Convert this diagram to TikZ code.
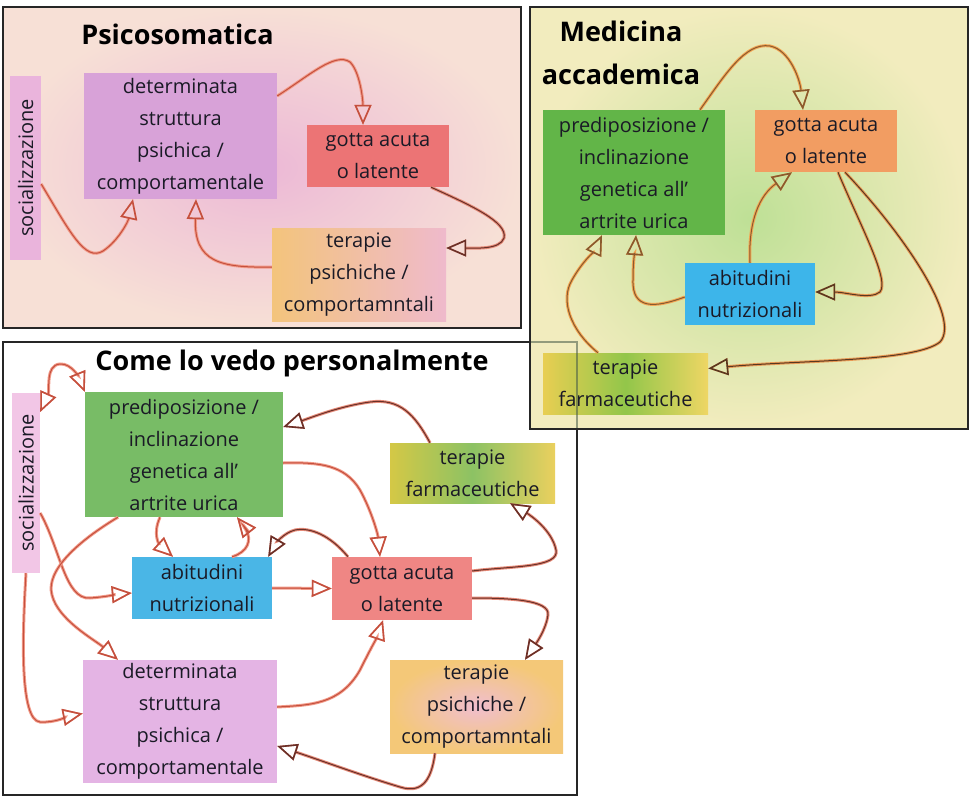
\documentclass[tikz,border=0pt]{standalone}
\usepackage{fontspec}
\setmainfont{Open Sans}
\usetikzlibrary{arrows.meta}
\definecolor{txt}{HTML}{1A1A26}
\definecolor{arRcore}{HTML}{C4503E}
\definecolor{arRhalo}{HTML}{F29A88}
\definecolor{arBcore}{HTML}{6A3028}
\definecolor{arBhalo}{HTML}{E58A78}
\definecolor{arOcore}{HTML}{8A5A2E}
\definecolor{arOhalo}{HTML}{F3A552}
\definecolor{arOBcore}{HTML}{5A3820}
\definecolor{arOBhalo}{HTML}{E89A55}
\definecolor{socA}{HTML}{EAB4DC}
\definecolor{detA}{HTML}{D8A2D8}
\definecolor{gotA}{HTML}{EC7475}
\definecolor{predB}{HTML}{62B548}
\definecolor{gotB}{HTML}{F29D62}
\definecolor{abiB}{HTML}{3DB5EA}
\definecolor{socC}{HTML}{F2C6E6}
\definecolor{predC}{HTML}{78BC66}
\definecolor{abiC}{HTML}{4AB6E6}
\definecolor{gotC}{HTML}{EF8684}
\definecolor{detC}{HTML}{E4B4E4}
\begin{document}
\begin{tikzpicture}[x=1pt,y=-1pt,
  >={Triangle[open,length=20pt,width=17pt,line width=1.6pt]},
  box/.style={rectangle, inner sep=0pt, align=center, text=txt,
    font=\fontsize{20}{32}\selectfont},
  ttl/.style={inner sep=0pt, align=center, text=black,
    font=\fontsize{27}{43}\selectfont\bfseries},
  panel/.style={draw=black!85, line width=2.6pt},
  arrR/.style={draw=arRcore, line width=1pt, preaction={draw=arRhalo, line width=3pt}, ->},
  arrB/.style={draw=arBcore, line width=1pt, preaction={draw=arBhalo, line width=3pt}, ->},
  arrO/.style={draw=arOcore, line width=1pt, preaction={draw=arOhalo, line width=3pt}, ->},
  arrOB/.style={draw=arOBcore, line width=1pt, preaction={draw=arOBhalo, line width=3pt}, ->},
]
\useasboundingbox (0,0) rectangle (970,798);
\fill[white] (0,0) rectangle (970,798);

% ---------- Panel 3 (drawn first, partly covered by panel 2)
\fill[white] (3,342) rectangle (577,795);
\draw[panel] (3,342) rectangle (577,795);

% ---------- Panel 1
\shade[inner color={rgb,255:red,236;green,184;blue,214}, outer color={rgb,255:red,247;green,224;blue,214}] (3,7) rectangle (521,328);
\draw[panel] (3,7) rectangle (521,328);
\node[ttl] (t1) at (177.5,34) {Psicosomatica};
\node[box, rotate=90, minimum width=184pt, minimum height=31pt, fill=socA] (soc1) at (25.5,168) {socializzazione};
\node[box, minimum width=193pt, minimum height=126pt, fill=detA] (det1) at (180.5,136) {determinata\\struttura\\psichica /\\comportamentale};
\node[box, minimum width=142pt, minimum height=62pt, fill=gotA] (gotta1) at (378,156) {gotta acuta\\o latente};
\node[box, minimum width=174pt, minimum height=93pt, left color={rgb,255:red,243;green,196;blue,124}, right color={rgb,255:red,239;green,186;blue,204}] (ter1) at (359,274.5) {terapie\\psichiche /\\comportamntali};
\draw[arrR] ([yshift=-16pt]soc1.south) .. controls (70,232) and (85,262) .. (103,251) .. controls (118,241) and (128,222) .. ([xshift=-47.5pt]det1.south);
\draw[arrR] ([yshift=40pt]det1.east) .. controls (310,75) and (335,52) .. (350,62) .. controls (360,72) and (363,100) .. ([xshift=-15pt]gotta1.north);
\draw[arrB] ([xshift=53pt]gotta1.south) .. controls (470,205) and (508,222) .. (504,238) .. controls (500,250) and (475,248) .. ([yshift=26.5pt]ter1.east);
\draw[arrR] ([yshift=7.5pt]ter1.west) .. controls (220,268) and (194,262) .. ([xshift=15.5pt]det1.south);

% ---------- Panel 2
\shade[inner color={rgb,255:red,190;green,224;blue,150}, outer color={rgb,255:red,242;green,236;blue,190}] (530,7) rectangle (968,429);
\node[ttl] (t2) at (621,53) {Medicina\\accademica};
\node[box, minimum width=182pt, minimum height=125pt, fill=predB] (pred2) at (634,172.5) {prediposizione /\\inclinazione\\genetica all\char39\\artrite urica};
\node[box, minimum width=142pt, minimum height=62pt, fill=gotB] (gotta2) at (826,141) {gotta acuta\\o latente};
\node[box, minimum width=130pt, minimum height=62pt, fill=abiB] (abit2) at (750,294) {abitudini\\nutrizionali};
\node[box, minimum width=165pt, minimum height=61pt, left color={rgb,255:red,232;green,206;blue,82}, right color={rgb,255:red,238;green,214;blue,100}, middle color={rgb,255:red,146;green,198;blue,74}] (ter2) at (625.5,383.5) {terapie\\farmaceutiche};
\draw[draw={rgb,255:red,70;green,90;blue,70}, opacity=0.55, line width=1.2pt] (530,342) -- (577,342) -- (577,429);
\draw[panel] (530,7) rectangle (968,429);
\draw[arrO] ([xshift=66pt]pred2.north) .. controls (725,75) and (745,42) .. (770,46) .. controls (790,50) and (800,80) .. ([xshift=-23pt]gotta2.north);
\draw[arrO] (abit2.north) .. controls (748,220) and (760,195) .. ([xshift=-34pt]gotta2.south);
\draw[arrO] ([yshift=-3pt]abit2.west) .. controls (655,308) and (632,310) .. (633,280) .. controls (633,260) and (635,250) .. ([xshift=2pt]pred2.south);
\draw[arrO] ([xshift=-27.5pt]ter2.north) .. controls (570,330) and (560,300) .. (572,280) .. controls (582,262) and (595,250) .. ([xshift=-32pt]pred2.south);
\draw[arrOB] ([xshift=12pt]gotta2.south) .. controls (860,225) and (890,280) .. (880,292) .. controls (870,300) and (845,292) .. ([yshift=2pt]abit2.east);
\draw[arrOB] ([xshift=19pt]gotta2.south) .. controls (900,230) and (962,318) .. (940,342) .. controls (915,362) and (800,360) .. ([yshift=15pt]ter2.east);

% ---------- Panel 3 content
\node[ttl] (t3) at (292,363) {Come lo vedo personalmente};
\node[box, rotate=90, minimum width=180pt, minimum height=28pt, fill=socC] (soc3) at (26,483) {socializzazione};
\node[box, minimum width=198pt, minimum height=125pt, fill=predC] (pred3) at (184,454.5) {prediposizione /\\inclinazione\\genetica all\char39\\artrite urica};
\node[box, minimum width=165pt, minimum height=60pt, left color={rgb,255:red,212;green,200;blue,70}, right color={rgb,255:red,234;green,208;blue,94}, middle color={rgb,255:red,140;green,194;blue,100}] (ter3f) at (472.5,473) {terapie\\farmaceutiche};
\node[box, minimum width=140pt, minimum height=62pt, fill=abiC] (abit3) at (202,588) {abitudini\\nutrizionali};
\node[box, minimum width=140pt, minimum height=63pt, fill=gotC] (gotta3) at (402,588.5) {gotta acuta\\o latente};
\node[box, minimum width=194pt, minimum height=123pt, fill=detC] (det3) at (180,721.5) {determinata\\struttura\\psichica /\\comportamentale};
\node[box, minimum width=173pt, minimum height=93pt, inner color={rgb,255:red,240;green,190;blue,206}, outer color={rgb,255:red,244;green,200;blue,120}] (ter3p) at (476.5,706.5) {terapie\\psichiche /\\comportamntali};

\draw[arrR, <->] ([yshift=71pt]soc3.south) .. controls (50,390) and (45,365) .. (60,364) .. controls (72,363) and (80,380) .. (pred3.north west);
\draw[arrR] ([yshift=-30pt]soc3.south) .. controls (60,548) and (65,600) .. (90,598) .. controls (105,597) and (120,594) .. ([yshift=-5pt]abit3.west);
\draw[arrR] ([xshift=-66pt]pred3.south) .. controls (80,540) and (45,570) .. (52,595) .. controls (58,620) and (95,640) .. ([xshift=-62pt]det3.north);
\draw[arrR] (soc3.west) .. controls (22,640) and (20,720) .. (40,722) .. controls (55,723) and (70,716) .. ([yshift=8pt]det3.west);
\draw[arrR] ([xshift=-24pt]pred3.south) .. controls (152,535) and (160,545) .. ([xshift=-29pt]abit3.north);
\draw[arrR] ([xshift=30pt]abit3.north) .. controls (248,552) and (252,540) .. (246,530) .. controls (243,525) and (240,521) .. ([xshift=53pt]pred3.south);
\draw[arrB] ([xshift=-54pt]gotta3.north) .. controls (330,535) and (310,527) .. (295,530) .. controls (283,533) and (275,545) .. ([xshift=-4pt]abit3.north east);
\draw[arrR] ([yshift=-8.5pt]pred3.east) .. controls (320,462) and (345,465) .. (360,490) .. controls (372,512) and (378,535) .. ([xshift=-22pt]gotta3.north);
\draw[arrB] ([xshift=-42.5pt]ter3f.north) .. controls (415,415) and (400,398) .. (370,402) .. controls (340,406) and (310,418) .. ([yshift=27.5pt]pred3.east);
\draw[arrB] ([yshift=17.5pt]gotta3.east) .. controls (510,566) and (560,568) .. (556,550) .. controls (552,530) and (530,515) .. ([xshift=37.5pt]ter3f.south);
\draw[arrB] ([yshift=-9.5pt]gotta3.east) .. controls (510,598) and (550,600) .. (548,615) .. controls (546,630) and (535,645) .. ([xshift=48.5pt]ter3p.north);
\draw[arrR] (abit3.east) -- (gotta3.west);
\draw[arrR] ([yshift=14.5pt]det3.east) .. controls (310,705) and (340,705) .. (360,670) .. controls (370,650) and (378,635) .. ([xshift=-19pt]gotta3.south);
\draw[arrB] ([xshift=-41.5pt]ter3p.south) .. controls (432,775) and (425,795) .. (400,787) .. controls (360,775) and (320,760) .. ([yshift=-24.5pt]det3.east);
\end{tikzpicture}
\end{document}
